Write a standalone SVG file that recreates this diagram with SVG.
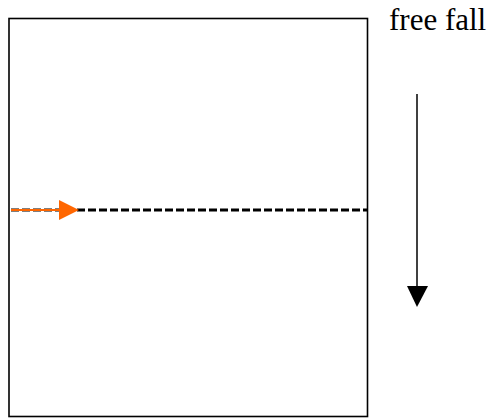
<svg xmlns="http://www.w3.org/2000/svg" width="491" height="418" viewBox="0 0 491 418">
<style>
.box{fill:#fff;stroke:#000;stroke-width:1.6}
.dash{stroke:#000;stroke-width:3;stroke-dasharray:8 3;fill:none}
.lbl{font-family:"Liberation Serif","Times New Roman",serif;font-size:31px;fill:#000}
</style>
<g id="box"><rect class="box" x="9" y="18.5" width="358.5" height="398"/></g>
<g id="label"><text class="lbl" x="389" y="30">free fall</text></g>
<g id="connectors">
<line class="dash" x1="11" y1="210" x2="367" y2="210"/>
<line x1="11" y1="210" x2="62" y2="210" stroke="#ff6600" stroke-width="2"/>
<polygon points="59,200 79,210 59,220" fill="#ff6600"/>
<line x1="417" y1="94" x2="417" y2="290" stroke="#000" stroke-width="1.5"/>
<polygon points="407,286 428,286 417,307" fill="#000"/>
</g>
</svg>
